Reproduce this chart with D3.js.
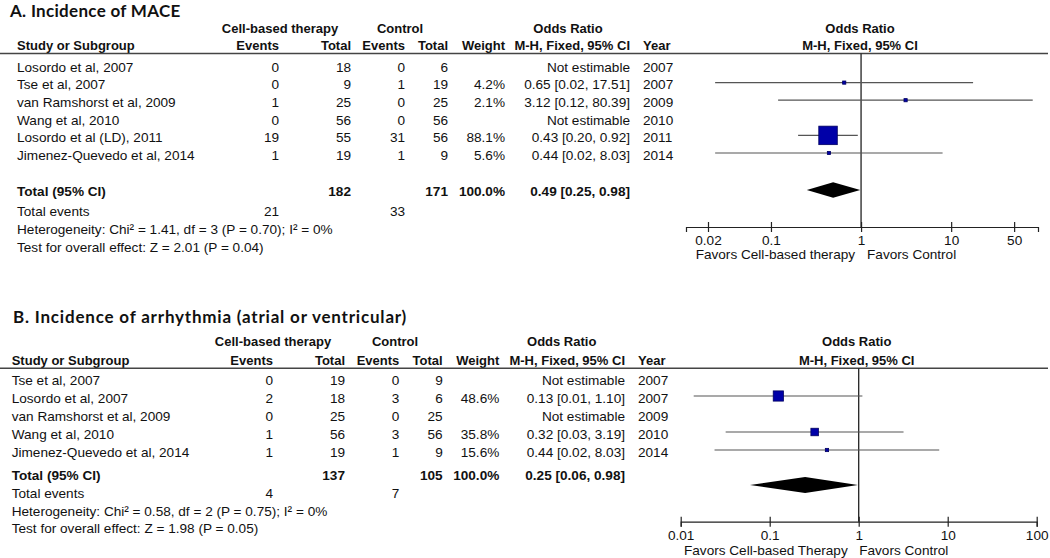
<!DOCTYPE html>
<html><head><meta charset="utf-8">
<script src="https://cdn.jsdelivr.net/npm/d3@7"></script>
<style>body{margin:0;background:#fff} svg{display:block}</style>
</head><body>
<script>
// ---------- Panel A data ----------
const titleA = "A. Incidence of MACE";
const studiesA = ["Losordo et al, 2007", "Tse et al, 2007", "van Ramshorst et al, 2009", "Wang et al, 2010", "Losordo et al (LD), 2011", "Jimenez-Quevedo et al, 2014"];
const cellEventsA = [0, 0, 1, 0, 19, 1];
const cellTotalA = [18, 9, 25, 56, 55, 19];
const ctrlEventsA = [0, 1, 0, 0, 31, 1];
const ctrlTotalA = [6, 19, 25, 56, 56, 9];
const weightA = [null, 4.2, 2.1, null, 88.1, 5.6];
const orA = [null, 0.65, 3.12, null, 0.43, 0.44];
const lowA = [null, 0.024, 0.12, null, 0.20, 0.024];
const highA = [null, 17.51, 80.39, null, 0.92, 8.03];
const yearA = [2007, 2007, 2009, 2010, 2011, 2014];
const totalA = {or: 0.49, low: 0.25, high: 0.98};
const hetA = "Heterogeneity: Chi\u00b2 = 1.41, df = 3 (P = 0.70); I\u00b2 = 0%";
const testA = "Test for overall effect: Z = 2.01 (P = 0.04)";
const ticksA = [0.02, 0.1, 1, 10, 50];
const axisDomainA = [0.0114, 92];
const favorsA = ["Favors Cell-based therapy", "Favors Control"];

// ---------- Panel B data ----------
const titleB = "B. Incidence of arrhythmia (atrial or ventricular)";
const studiesB = ["Tse et al, 2007", "Losordo et al, 2007", "van Ramshorst et al, 2009", "Wang et al, 2010", "Jimenez-Quevedo et al, 2014"];
const cellEventsB = [0, 2, 0, 1, 1];
const cellTotalB = [19, 18, 25, 56, 19];
const ctrlEventsB = [0, 3, 0, 3, 1];
const ctrlTotalB = [9, 6, 25, 56, 9];
const weightB = [null, 48.6, null, 35.8, 15.6];
const orB = [null, 0.125, null, 0.32, 0.44];
const lowB = [null, 0.014, null, 0.032, 0.024];
const highB = [null, 1.10, null, 3.19, 8.03];
const yearB = [2007, 2007, 2009, 2010, 2014];
const totalB = {or: 0.25, low: 0.06, high: 0.98};
const hetB = "Heterogeneity: Chi\u00b2 = 0.58, df = 2 (P = 0.75); I\u00b2 = 0%";
const testB = "Test for overall effect: Z = 1.98 (P = 0.05)";
const ticksB = [0.01, 0.1, 1, 10, 100];
const axisDomainB = [0.01, 100];
const favorsB = ["Favors Cell-based Therapy", "Favors Control"];

// ---------- drawing ----------
const W = 1050, H = 558;
const FONT = "'Liberation Sans', Arial, sans-serif";
const TITLEFONT = "Lato, 'Open Sans', sans-serif";
const TXT = "#111";
const svg = d3.select("body").append("svg").attr("width", W).attr("height", H)
  .style("font-family", FONT);

const f2 = d3.format(".2f");
const fw = d => d3.format(".1f")(d) + "%";
const boxSize = d3.scaleLinear().domain([0, 100]).range([0, 21]);

function drawPanel(p) {
  const g = svg.append("g");
  const n = p.studies.length;
  const txt = (x, y, s, anchor, bold, size) => g.append("text")
    .attr("x", x).attr("y", y).attr("dy", "0.35em")
    .attr("text-anchor", anchor || "start")
    .attr("font-size", size || 13.6)
    .attr("font-weight", bold ? "bold" : "normal")
    .attr("fill", TXT).text(s);

  // title
  g.append("text").attr("x", p.titleX).attr("y", p.titleY)
    .attr("font-family", TITLEFONT).attr("font-weight", 700)
    .attr("font-size", p.titleSize).attr("letter-spacing", p.titleSpacing)
    .attr("fill", "#111").text(p.title);

  const c = p.cols;
  // group headers
  txt(p.cellHeadX, p.groupY, "Cell-based therapy", "middle", true, 13);
  txt(p.ctrlHeadX, p.groupY, "Control", "middle", true, 13);
  txt(p.orHeadX, p.groupY, "Odds Ratio", "middle", true, 13);
  txt(p.plotHeadX, p.groupY, "Odds Ratio", "middle", true, 13);
  // sub headers
  txt(c.study, p.subY, "Study or Subgroup", "start", true, 13);
  txt(c.cellEv, p.subY, "Events", "end", true, 13);
  txt(c.cellTot, p.subY, "Total", "end", true, 13);
  txt(c.ctrlEv, p.subY, "Events", "end", true, 13);
  txt(c.ctrlTot, p.subY, "Total", "end", true, 13);
  txt(c.weight, p.subY, "Weight", "end", true, 13);
  txt(c.ci, p.subY, "M-H, Fixed, 95% CI", "end", true, 13);
  txt(c.year, p.subY, "Year", "start", true, 13);
  txt(p.plotHeadX, p.subY, "M-H, Fixed, 95% CI", "middle", true, 13);

  g.append("line").attr("x1", 0).attr("x2", 1048).attr("y1", p.lineY).attr("y2", p.lineY)
    .attr("stroke", "#444").attr("stroke-width", 1.6);

  const y = d3.scalePoint().domain(d3.range(n)).range(p.rowRange);
  const x = d3.scaleLog().domain(p.axisDomain).range(p.axisRange);

  d3.range(n).forEach(i => {
    const yy = y(i);
    txt(c.study, yy, p.studies[i]);
    txt(c.cellEv, yy, p.cellEvents[i], "end");
    txt(c.cellTot, yy, p.cellTotal[i], "end");
    txt(c.ctrlEv, yy, p.ctrlEvents[i], "end");
    txt(c.ctrlTot, yy, p.ctrlTotal[i], "end");
    if (p.weight[i] != null) txt(c.weight, yy, fw(p.weight[i]), "end");
    txt(c.ci, yy, p.or[i] == null ? "Not estimable" :
      `${f2(p.or[i])} [${f2(p.low[i])}, ${f2(p.high[i])}]`, "end");
    txt(c.year, yy, p.year[i]);
  });

  // total rows
  txt(c.study, p.totalY, "Total (95% CI)", "start", true);
  txt(c.cellTot, p.totalY, d3.sum(p.cellTotal), "end", true);
  txt(c.ctrlTot, p.totalY, d3.sum(p.ctrlTotal), "end", true);
  txt(c.weight, p.totalY, fw(100), "end", true);
  txt(c.ci, p.totalY, `${f2(p.total.or)} [${f2(p.total.low)}, ${f2(p.total.high)}]`, "end", true);
  txt(c.study, p.evY, "Total events");
  txt(c.cellEv, p.evY, d3.sum(p.cellEvents), "end");
  txt(c.ctrlEv, p.evY, d3.sum(p.ctrlEvents), "end");
  txt(c.study, p.hetY, p.het);
  txt(c.study, p.testY, p.test);

  // forest plot
  const x1 = x(1);
  g.append("line").attr("x1", x1).attr("x2", x1).attr("y1", p.lineY).attr("y2", p.axisY)
    .attr("stroke", "#222").attr("stroke-width", 1.3);

  d3.range(n).filter(i => p.or[i] != null).forEach(i => {
    const yy = y(i) - 2;
    g.append("line").attr("x1", x(p.low[i])).attr("x2", x(p.high[i]))
      .attr("y1", yy).attr("y2", yy).attr("stroke", "#555").attr("stroke-width", 1.2);
    const s = Math.max(3.2, boxSize(p.weight[i]));
    g.append("rect").attr("x", x(p.or[i]) - s / 2).attr("y", yy - s / 2)
      .attr("width", s).attr("height", s)
      .attr("fill", "#0000a8").attr("stroke", "#000060").attr("stroke-width", 0.8);
  });

  const dy = p.diamondY, hh = p.diamondH;
  g.append("path")
    .attr("d", `M${x(p.total.low)},${dy} L${x(p.total.or)},${dy - hh} L${x(p.total.high)},${dy} L${x(p.total.or)},${dy + hh} Z`)
    .attr("fill", "#000");

  const ax = g.append("g").attr("transform", `translate(0,${p.axisY})`)
    .call(d3.axisBottom(x).tickValues(p.ticks).tickFormat(d => String(d)).tickSizeOuter(0).tickSize(5));
  ax.select(".domain").attr("stroke", "#222").attr("stroke-width", 1.2);
  ax.selectAll(".tick line").attr("y1", -5).attr("y2", 5).attr("stroke", "#222").attr("stroke-width", 1.2);
  ax.selectAll(".tick text").attr("y", p.tickLabelDy).attr("dy", "0.35em")
    .attr("font-size", 13.6).attr("font-family", FONT).attr("fill", TXT);

  txt(x1 + p.favL, p.favY, p.favors[0], "end");
  txt(x1 + p.favR, p.favY, p.favors[1], "start");
}

drawPanel({
  title: titleA, titleX: 10, titleY: 16.5, titleSize: 17, titleSpacing: 0.3,
  studies: studiesA, cellEvents: cellEventsA, cellTotal: cellTotalA,
  ctrlEvents: ctrlEventsA, ctrlTotal: ctrlTotalA, weight: weightA,
  or: orA, low: lowA, high: highA, year: yearA, total: totalA,
  het: hetA, test: testA, ticks: ticksA, axisDomain: axisDomainA, favors: favorsA,
  cols: {study: 17, cellEv: 279, cellTot: 351, ctrlEv: 405, ctrlTot: 448, weight: 505, ci: 630, year: 643},
  cellHeadX: 280, ctrlHeadX: 400, orHeadX: 568, plotHeadX: 860,
  groupY: 28, subY: 45, lineY: 53.5, rowRange: [67, 155],
  totalY: 191.7, evY: 211, hetY: 229.3, testY: 247.3,
  axisRange: [686, 1038], axisY: 227, tickLabelDy: 13, favY: 254,
  diamondY: 190, diamondH: 7.7, favL: -6, favR: 6
});

drawPanel({
  title: titleB, titleX: 13, titleY: 323, titleSize: 17, titleSpacing: 0.8,
  studies: studiesB, cellEvents: cellEventsB, cellTotal: cellTotalB,
  ctrlEvents: ctrlEventsB, ctrlTotal: ctrlTotalB, weight: weightB,
  or: orB, low: lowB, high: highB, year: yearB, total: totalB,
  het: hetB, test: testB, ticks: ticksB, axisDomain: axisDomainB, favors: favorsB,
  cols: {study: 11.7, cellEv: 273, cellTot: 345, ctrlEv: 399.3, ctrlTot: 442.7, weight: 499.3, ci: 625, year: 638},
  cellHeadX: 273, ctrlHeadX: 395, orHeadX: 561.7, plotHeadX: 856.7,
  groupY: 341.7, subY: 360, lineY: 368.3, rowRange: [380, 452],
  totalY: 475, evY: 493.3, hetY: 511, testY: 528.3,
  axisRange: [680.7, 1036.7], axisY: 521.7, tickLabelDy: 13.3, favY: 550,
  diamondY: 485, diamondH: 8, favL: -11, favR: 0.5
});
</script>
</body></html>
